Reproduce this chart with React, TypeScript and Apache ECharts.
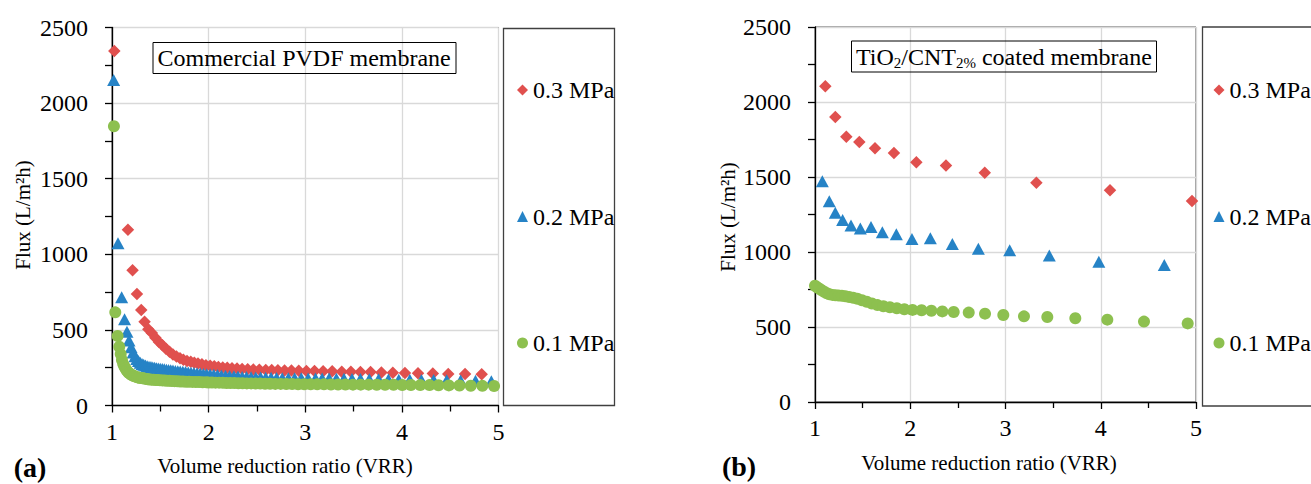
import React, { useEffect, useRef } from 'react';
import * as echarts from 'echarts';

const seriesNames = ['0.3 MPa', '0.2 MPa', '0.1 MPa'];
const seriesColors = ['#E0504E', '#2683C6', '#8DC04F'];
const seriesSymbols = ['diamond', 'triangle', 'circle'];
const seriesSizes: any[] = [12.5, [13, 12], 12];

const xTickValues = [1, 2, 3, 4, 5];
const yTickValues = [0, 500, 1000, 1500, 2000, 2500];

const panelTitles = ['Commercial PVDF membrane', '{n|TiO}{s|2}{n|/CNT}{s|2%}{n| coated membrane}'];
const panelLetters = ['(a)', '(b)'];
const xAxisTitle = 'Volume reduction ratio (VRR)';
const yAxisTitle = 'Flux (L/m\u00B2h)';

// (a) Commercial PVDF membrane: [VRR, flux]
const pvdf03: [number, number][] = [
  [1.024, 2344], [1.165, 1163], [1.213, 894], [1.258, 737], [1.303, 632], [1.337, 554], [1.376, 504],
  [1.412, 480], [1.449, 448], [1.486, 420], [1.522, 398], [1.558, 376], [1.595, 356], [1.631, 338],
  [1.667, 324], [1.704, 312], [1.739, 303], [1.776, 295], [1.815, 289], [1.852, 283], [1.890, 277],
  [1.931, 272], [1.972, 267], [2.016, 263], [2.058, 259], [2.101, 255], [2.146, 252], [2.193, 249],
  [2.242, 246], [2.294, 244], [2.347, 242], [2.404, 240], [2.463, 238], [2.525, 237], [2.591, 235],
  [2.653, 234], [2.717, 233], [2.786, 232], [2.857, 231], [2.933, 230], [3.012, 229], [3.096, 228],
  [3.185, 227], [3.279, 226], [3.378, 224], [3.472, 223], [3.571, 222], [3.676, 221], [3.788, 219],
  [3.906, 217], [4.032, 215], [4.167, 213], [4.320, 211], [4.480, 209], [4.654, 208], [4.826, 207],
];
const pvdf02: [number, number][] = [
  [1.017, 2152], [1.062, 1073], [1.100, 716], [1.130, 570], [1.155, 488], [1.176, 430], [1.198, 385],
  [1.218, 350], [1.238, 325], [1.256, 307], [1.274, 294], [1.292, 283], [1.311, 275], [1.328, 269],
  [1.346, 264], [1.364, 260], [1.383, 257], [1.403, 254], [1.422, 251], [1.441, 249], [1.460, 247],
  [1.479, 245], [1.499, 243], [1.520, 241], [1.541, 239], [1.563, 237], [1.585, 235], [1.608, 233],
  [1.631, 231], [1.656, 229], [1.681, 227], [1.706, 225], [1.733, 223], [1.761, 221], [1.789, 219],
  [1.818, 217], [1.848, 215], [1.880, 213], [1.912, 211], [1.946, 209], [1.980, 207], [2.016, 205],
  [2.053, 203], [2.092, 201], [2.132, 199], [2.174, 197], [2.217, 195], [2.262, 193], [2.304, 191],
  [2.347, 189], [2.392, 188], [2.439, 187], [2.488, 186], [2.538, 185], [2.591, 184], [2.646, 183],
  [2.703, 182], [2.762, 181], [2.825, 181], [2.890, 180], [2.959, 180], [3.030, 179], [3.106, 179],
  [3.175, 178], [3.247, 178], [3.322, 177], [3.401, 177], [3.484, 176], [3.571, 175], [3.663, 174],
  [3.759, 173], [3.861, 172], [3.968, 171], [4.082, 170], [4.202, 169], [4.329, 168], [4.464, 167],
  [4.608, 165], [4.762, 163], [4.926, 161],
];
const pvdf01: [number, number][] = [
  [1.020, 1847], [1.034, 616], [1.058, 460], [1.075, 389], [1.090, 340], [1.103, 301], [1.116, 275],
  [1.128, 258], [1.140, 244], [1.152, 232], [1.165, 222], [1.178, 214], [1.192, 207], [1.206, 202],
  [1.220, 197], [1.235, 193], [1.250, 189], [1.266, 186], [1.282, 184], [1.299, 182], [1.316, 180],
  [1.334, 178], [1.352, 176], [1.371, 174], [1.390, 172], [1.410, 171], [1.431, 170], [1.452, 169],
  [1.474, 168], [1.497, 167], [1.520, 166], [1.544, 165], [1.569, 164], [1.595, 163], [1.621, 162],
  [1.648, 161], [1.676, 160], [1.705, 159], [1.735, 158], [1.766, 157], [1.798, 157], [1.831, 156],
  [1.866, 155], [1.901, 155], [1.938, 154], [1.976, 153], [2.000, 152], [2.035, 152], [2.071, 151],
  [2.108, 151], [2.146, 150], [2.185, 149], [2.225, 148], [2.266, 148], [2.308, 147], [2.351, 147],
  [2.395, 146], [2.440, 146], [2.486, 145], [2.534, 145], [2.584, 144], [2.636, 144], [2.690, 143],
  [2.746, 143], [2.804, 142], [2.864, 142], [2.926, 141], [2.990, 141], [3.056, 140], [3.124, 140],
  [3.194, 140], [3.266, 139], [3.340, 139], [3.416, 139], [3.494, 138], [3.574, 138], [3.656, 138],
  [3.740, 137], [3.826, 137], [3.914, 137], [4.004, 136], [4.093, 136], [4.190, 135], [4.286, 135],
  [4.379, 134], [4.486, 133], [4.596, 132], [4.713, 131], [4.833, 130], [4.954, 129],
];

// (b) TiO2/CNT 2% coated membrane: [VRR, flux]
const coated03: [number, number][] = [
  [1.108, 2105], [1.213, 1900], [1.329, 1768], [1.465, 1733], [1.630, 1691], [1.829, 1660],
  [2.064, 1598], [2.375, 1576], [2.782, 1529], [3.324, 1462], [4.097, 1411], [4.958, 1340],
];
const coated02: [number, number][] = [
  [1.077, 1471], [1.150, 1338], [1.213, 1262], [1.290, 1213], [1.378, 1176], [1.476, 1156],
  [1.588, 1167], [1.707, 1131], [1.854, 1118], [2.018, 1087], [2.211, 1091], [2.442, 1053],
  [2.715, 1022], [3.044, 1011], [3.460, 976], [3.980, 935], [4.667, 913],
];
const coated01: [number, number][] = [
  [1.000, 775], [1.022, 765], [1.046, 755], [1.070, 745], [1.096, 735], [1.124, 725], [1.152, 718],
  [1.182, 714], [1.214, 712], [1.247, 710], [1.282, 708], [1.319, 705], [1.359, 700], [1.401, 695],
  [1.445, 688], [1.493, 678], [1.543, 668], [1.597, 657], [1.656, 646], [1.718, 638], [1.786, 632],
  [1.859, 625], [1.938, 618], [2.024, 614], [2.119, 612], [2.222, 608], [2.337, 604], [2.456, 600],
  [2.614, 596], [2.785, 589], [2.977, 580], [3.194, 571], [3.439, 567], [3.733, 558], [4.069, 549],
  [4.454, 536], [4.913, 524],
];

const panelData = [
  [pvdf03, pvdf02, pvdf01],
  [coated03, coated02, coated01],
];

const FONT = 'Liberation Serif';

export default function App() {
  const ref = useRef<HTMLDivElement>(null);
  useEffect(() => {
    if (!ref.current) return;
    const chart = echarts.init(ref.current, undefined, { renderer: 'svg' });

    const grids = [
      { left: 112, top: 27.5, width: 386.5, height: 378 },
      { left: 815, top: 27, width: 381, height: 375 },
    ];

    const axisLineStyle = { color: '#000', width: 1.3 };
    const tickRich = { t: { fontFamily: FONT, fontSize: 24, color: '#000', fontWeight: 'normal' } };
    const labelStyle = (margin: number) => ({
      show: true,
      fontFamily: FONT,
      fontSize: 24,
      color: '#000',
      margin,
      rich: tickRich,
      formatter: (v: number) => '{t|' + String(v) + '}',
    });
    const xAxes = grids.map((_, i) => ({
      type: 'value',
      gridIndex: i,
      min: xTickValues[0],
      max: xTickValues[xTickValues.length - 1],
      interval: 1,
      axisLine: { show: true, onZero: false, lineStyle: axisLineStyle },
      axisTick: { show: true, length: 7, lineStyle: axisLineStyle },
      minorTick: { show: true, splitNumber: 2, length: 6, lineStyle: axisLineStyle },
      splitLine: { show: true, lineStyle: { color: '#d9d9d9', width: 1.3 } },
      axisLabel: labelStyle(14),
    }));
    const yAxes = grids.map((_, i) => ({
      type: 'value',
      gridIndex: i,
      min: yTickValues[0],
      max: yTickValues[yTickValues.length - 1],
      interval: 500,
      axisLine: { show: true, onZero: false, lineStyle: axisLineStyle },
      axisTick: { show: true, length: 7, lineStyle: axisLineStyle },
      minorTick: { show: true, splitNumber: 2, length: 7, lineStyle: axisLineStyle },
      splitLine: { show: true, lineStyle: { color: '#d9d9d9', width: 1.3 } },
      axisLabel: labelStyle(24),
    }));

    const series: any[] = [];
    panelData.forEach((sets, p) => {
      sets.forEach((data, s) => {
        series.push({
          type: 'scatter',
          name: seriesNames[s],
          xAxisIndex: p,
          yAxisIndex: p,
          data,
          symbol: seriesSymbols[s],
          symbolSize: seriesSizes[s],
          itemStyle: { color: seriesColors[s], opacity: 1 },
          clip: false,
        });
      });
    });

    const legendBase = {
      orient: 'vertical',
      itemWidth: 11,
      itemHeight: 11,
      itemGap: 102.5,
      data: seriesNames,
      selectedMode: false,
      textStyle: { fontFamily: FONT, fontSize: 24, color: '#000', lineHeight: 24 },
    };

    const titleBase = {
      borderColor: '#000',
      borderWidth: 1,
      padding: [2, 5, 2, 5],
      textStyle: {
        fontFamily: FONT,
        fontSize: 24,
        fontWeight: 'normal',
        color: '#000',
        lineHeight: 28,
        rich: {
          n: { fontFamily: FONT, fontSize: 24, color: '#000', lineHeight: 28 },
          s: { fontFamily: FONT, fontSize: 15, color: '#000', lineHeight: 12, verticalAlign: 'bottom' },
        },
      },
    };

    const textStyle = (size: number, weight = 'normal') => ({
      fontFamily: FONT,
      fontSize: size,
      fontWeight: weight,
      fill: '#000',
      align: 'center',
      verticalAlign: 'middle',
    });

    chart.setOption({
      animation: false,
      backgroundColor: '#fff',
      textStyle: { fontFamily: FONT },
      grid: grids.map((g) => ({ ...g, show: true, borderColor: '#404040', borderWidth: 1, backgroundColor: 'transparent' })),
      xAxis: xAxes,
      yAxis: yAxes,
      series,
      legend: [
        { ...legendBase, left: 512, top: 73 },
        { ...legendBase, left: 1208.5, top: 73 },
      ],
      title: [
        { ...titleBase, text: panelTitles[0], left: 152.5, top: 42 },
        { ...titleBase, text: panelTitles[1], left: 851, top: 40.5 },
      ],
      graphic: [
        { type: 'rect', shape: { x: 503.5, y: 28.5, width: 111, height: 377 }, style: { fill: 'none', stroke: '#404040', lineWidth: 1.3 } },
        { type: 'rect', shape: { x: 1202.5, y: 27, width: 130, height: 379 }, style: { fill: 'none', stroke: '#404040', lineWidth: 1.3 } },
        { type: 'text', x: 285, y: 466, style: { ...textStyle(21), text: xAxisTitle } },
        { type: 'text', x: 989, y: 463, style: { ...textStyle(21), text: xAxisTitle } },
        { type: 'text', x: 23, y: 215, rotation: Math.PI / 2, style: { ...textStyle(21), text: yAxisTitle } },
        { type: 'text', x: 728, y: 217, rotation: Math.PI / 2, style: { ...textStyle(21), text: yAxisTitle } },
        { type: 'text', x: 30, y: 467, style: { ...textStyle(28, 'bold'), text: panelLetters[0] } },
        { type: 'text', x: 739, y: 466, style: { ...textStyle(28, 'bold'), text: panelLetters[1] } },
      ],
    });

    return () => chart.dispose();
  }, []);

  return <div ref={ref} style={{ position: 'absolute', left: 0, top: 0, width: 1311, height: 484 }} />;
}
